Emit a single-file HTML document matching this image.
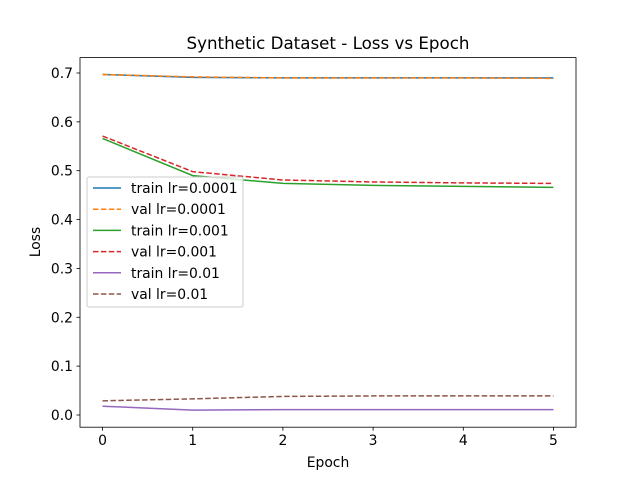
<!DOCTYPE html>
<html><head><meta charset="utf-8"><style>
body{margin:0;background:#fff}
svg text{font-family:"DejaVu Sans","Liberation Sans",sans-serif;fill:#000}
</style></head><body>
<svg id="chart" width="640" height="480" viewBox="0 0 640 480" xmlns="http://www.w3.org/2000/svg">
<rect width="640" height="480" fill="#fff"/>
<text x="328" y="49" font-size="16.7" text-anchor="middle">Synthetic Dataset - Loss vs Epoch</text>
<g id="ticks"></g>
<g id="series"></g>
<rect x="80" y="57.6" width="496" height="369.6" fill="none" stroke="#000" stroke-width="0.8"/>
<text x="328" y="467" font-size="13.9" text-anchor="middle">Epoch</text>
<text x="40" y="242" font-size="13.9" text-anchor="middle" transform="rotate(-90 40 242)">Loss</text>
<g id="legend"></g>
</svg>
<script>
const epochs=[0,1,2,3,4,5];
const xTicks=[0,1,2,3,4,5];
const yTicks=[0.0,0.1,0.2,0.3,0.4,0.5,0.6,0.7];
const seriesNames=["train lr=0.0001","val lr=0.0001","train lr=0.001","val lr=0.001","train lr=0.01","val lr=0.01"];
const trainLr00001=[0.697,0.691,0.690,0.690,0.690,0.690];
const valLr00001=[0.697,0.692,0.690,0.690,0.690,0.689];
const trainLr0001=[0.566,0.490,0.474,0.470,0.468,0.466];
const valLr0001=[0.571,0.498,0.481,0.477,0.475,0.474];
const trainLr001=[0.018,0.010,0.011,0.011,0.011,0.011];
const valLr001=[0.029,0.033,0.038,0.039,0.039,0.039];
const allSeries=[trainLr00001,valLr00001,trainLr0001,valLr0001,trainLr001,valLr001];
const colors=["#1f77b4","#ff7f0e","#2ca02c","#d62728","#9467bd","#8c564b"];
const dashed=[false,true,false,true,false,true];
const NS="http://www.w3.org/2000/svg";
const L=80,R=576,T=57.6,B=427.2;
const x0=-0.25,x1=5.25,y0=-0.0250,y1=0.7315;
const sx=v=>L+(v-x0)/(x1-x0)*(R-L);
const sy=v=>B-(v-y0)/(y1-y0)*(B-T);
function mk(tag,attrs,parent){const e=document.createElementNS(NS,tag);for(const k in attrs)e.setAttribute(k,attrs[k]);parent.appendChild(e);return e;}
const tg=document.getElementById('ticks');
xTicks.forEach(t=>{
 const l=mk('line',{x1:sx(t),x2:sx(t),y1:B,y2:B+3.5,stroke:'#000','stroke-width':0.8},tg);
 
 
 const tx=mk('text',{x:sx(t),y:B+18,'font-size':13.9,'text-anchor':'middle'},tg);
 tx.textContent=t;
 
 
});
yTicks.forEach(t=>{
 const l=mk('line',{x1:L-3.5,x2:L,y1:sy(t),y2:sy(t),stroke:'#000','stroke-width':0.8},tg);
 
 
 const tx=mk('text',{x:L-7,y:sy(t)+5,'font-size':13.9,'text-anchor':'end'},tg);
 tx.textContent=t.toFixed(1);
 
 
});
const sg=document.getElementById('series');
allSeries.forEach((s,i)=>{
 const p=mk('polyline',{points:s.map((v,j)=>sx(epochs[j])+','+sy(v)).join(' '),fill:'none',stroke:colors[i],'stroke-width':1.5},sg);
 if(dashed[i])p.setAttribute('stroke-dasharray','5.5,2.4');
 
 
});
const lg=document.getElementById('legend');
const box=mk('rect',{x:87,y:177,width:156,height:130,rx:2,fill:'#fff','fill-opacity':0.8,stroke:'#ccc','stroke-width':1},lg);


seriesNames.forEach((n,i)=>{
 const y=188+i*21.2;
 const l=mk('line',{x1:93,x2:121,y1:y,y2:y,stroke:colors[i],'stroke-width':1.5},lg);
 if(dashed[i])l.setAttribute('stroke-dasharray','5.5,2.4');
 
 
 const t=mk('text',{x:131,y:y+5,'font-size':13.9},lg);
 t.textContent=n;
 
 
});
</script>
</body></html>
